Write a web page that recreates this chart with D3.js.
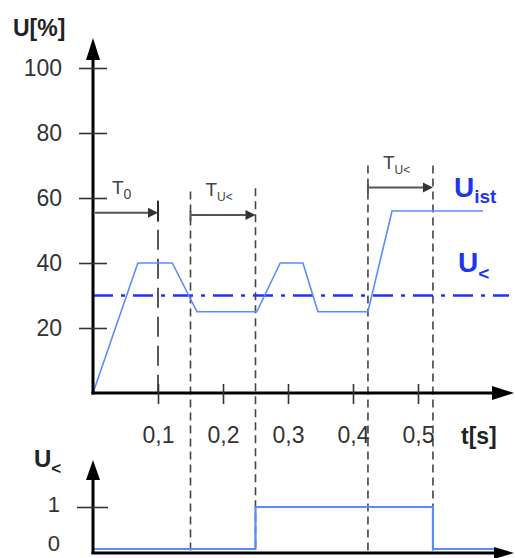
<!DOCTYPE html>
<html><head><meta charset="utf-8">
<script src="https://cdn.jsdelivr.net/npm/d3@7/dist/d3.min.js"></script>
<style>body{margin:0;background:#fff}svg{display:block;font-family:"Liberation Sans",Arial,sans-serif}</style>
</head><body>
<svg id="c" width="515" height="558"></svg>
<script>
// ---- data ----
const uistT = [0, 0.069, 0.122, 0.160, 0.252, 0.288, 0.323, 0.346, 0.423, 0.460, 0.600];
const uistV = [0, 40, 40, 25, 25, 40, 40, 25, 25, 56, 56];
const threshold = 30;
const thresholdEnd = 0.64;
const yTicks = [20, 40, 60, 80, 100];
const xTicks = [0.1, 0.2, 0.3, 0.4, 0.5];
const xTickLabels = ["0,1", "0,2", "0,3", "0,4", "0,5"];
const stepT = [0, 0.25, 0.25, 0.523, 0.523, 0.62];
const stepV = [0, 0, 1, 1, 0, 0];
const y2Ticks = [0, 1];
const markerT = [0.15, 0.25, 0.423, 0.523];
const markerTop = [62, 63, 70, 70];
const spans = [
  {t0: 0, t1: 0.1, v: 55.5, label: "T", sub: "0"},
  {t0: 0.15, t1: 0.25, v: 54.8, label: "T", sub: "U<"},
  {t0: 0.423, t1: 0.523, v: 63.2, label: "T", sub: "U<"}
];

const svg = d3.select("#c");
const x = d3.scaleLinear().domain([0, 0.5]).range([93, 418]);
const y = d3.scaleLinear().domain([0, 100]).range([393, 68]);
const y2 = d3.scaleLinear().domain([0, 1]).range([549, 507]);

const blueLine = "#5b8cff", blueDark = "#2036ee", gray = "#444";

// marker dashed verticals (behind)
markerT.forEach((t, i) => {
  svg.append("line").attr("x1", x(t)).attr("x2", x(t))
    .attr("y1", y(markerTop[i])).attr("y2", y2(0) + 4)
    .attr("stroke", gray).attr("stroke-width", 1.6).attr("stroke-dasharray", "8,5");
});
// T0 dashed line
svg.append("line").attr("x1", x(0.1)).attr("x2", x(0.1))
  .attr("y1", y(spans[0].v) - 12).attr("y2", y(0))
  .attr("stroke", "#222").attr("stroke-width", 1.5).attr("stroke-dasharray", "20,9");

// threshold dash-dot
svg.append("line").attr("x1", x(0)).attr("x2", x(thresholdEnd))
  .attr("y1", y(threshold)).attr("y2", y(threshold))
  .attr("stroke", blueDark).attr("stroke-width", 2.5).attr("stroke-dasharray", "20,8,4,8");

// U_ist curve
const line = d3.line().x((d, i) => x(uistT[i])).y(d => y(d));
svg.append("path").datum(uistV).attr("d", line)
  .attr("fill", "none").attr("stroke", blueLine).attr("stroke-width", 1.6);

// step line bottom
const line2 = d3.line().x((d, i) => x(stepT[i])).y(d => y2(d));
svg.append("path").datum(stepV).attr("d", line2)
  .attr("fill", "none").attr("stroke", blueLine).attr("stroke-width", 2.2);

// axes
function arrowUp(cx, tip, len, hw) {
  svg.append("path").attr("d", `M${cx},${tip}L${cx - hw},${tip + len}L${cx + hw},${tip + len}Z`).attr("fill", "#000");
}
function arrowRight(cy, tip, len, hw) {
  svg.append("path").attr("d", `M${tip},${cy}L${tip - len},${cy - hw}L${tip - len},${cy + hw}Z`).attr("fill", "#000");
}
// main y axis
svg.append("line").attr("x1", x(0)).attr("x2", x(0)).attr("y1", y(0) + 1.5).attr("y2", 50).attr("stroke", "#000").attr("stroke-width", 3);
arrowUp(x(0), 38, 22, 7);
// main x axis
svg.append("line").attr("x1", x(0) - 1.5).attr("x2", 500).attr("y1", y(0)).attr("y2", y(0)).attr("stroke", "#000").attr("stroke-width", 3);
arrowRight(y(0), 514, 22, 7);

const yAx = svg.append("g").attr("transform", `translate(${x(0)},0)`)
  .call(d3.axisLeft(y).tickValues(yTicks).tickSize(0).tickPadding(31));
yAx.select(".domain").remove();
yAx.selectAll("line").attr("x1", -14).attr("x2", 14).attr("stroke", "#333").attr("stroke-width", 1.6);
yAx.selectAll("text").attr("font-size", 23).attr("fill", "#333").attr("font-family", "Liberation Sans, Arial, sans-serif");

const xAx = svg.append("g").attr("transform", `translate(0,${y(0)})`)
  .call(d3.axisBottom(x).tickValues(xTicks).tickFormat((d, i) => xTickLabels[i]).tickSize(0).tickPadding(34));
xAx.select(".domain").remove();
xAx.selectAll("line").attr("y1", -9).attr("y2", 11).attr("stroke", "#333").attr("stroke-width", 1.6);
xAx.selectAll("text").attr("font-size", 23).attr("fill", "#333").attr("font-family", "Liberation Sans, Arial, sans-serif");

// bottom axes
svg.append("line").attr("x1", x(0)).attr("x2", x(0)).attr("y1", 554).attr("y2", 472).attr("stroke", "#000").attr("stroke-width", 3);
arrowUp(x(0), 460, 20, 7);
svg.append("line").attr("x1", x(0) - 1.5).attr("x2", 500).attr("y1", 553).attr("y2", 553).attr("stroke", "#000").attr("stroke-width", 3);
arrowRight(553, 514, 20, 6);
const y2Ax = svg.append("g").attr("transform", `translate(${x(0)},0)`)
  .call(d3.axisLeft(y2).tickValues(y2Ticks).tickSize(0).tickPadding(33).tickFormat(d3.format("d")));
y2Ax.select(".domain").remove();
y2Ax.selectAll("line").attr("x1", d => d === 1 ? -16 : 0).attr("x2", d => d === 1 ? 15 : 0).attr("stroke", "#333").attr("stroke-width", 1.6);
y2Ax.selectAll("text").attr("font-size", 22).attr("fill", "#333").attr("dy", d => d === 0 ? "0.08em" : "0.2em")
  .attr("font-family", "Liberation Sans, Arial, sans-serif");

// span arrows
spans.forEach((s, i) => {
  const yy = y(s.v), xa = x(s.t0), xb = x(s.t1);
  svg.append("line").attr("x1", xa + (i === 0 ? 2 : 0)).attr("x2", xb - 8).attr("y1", yy).attr("y2", yy)
    .attr("stroke", "#555").attr("stroke-width", 2);
  svg.append("path").attr("d", `M${xb},${yy}L${xb - 10},${yy - 5}L${xb - 10},${yy + 5}Z`).attr("fill", "#333");
  if (i === 0) {
    svg.append("line").attr("x1", xb).attr("x2", xb).attr("y1", yy - 12).attr("y2", yy + 9).attr("stroke", "#222").attr("stroke-width", 1.6);
  } else {
    svg.append("line").attr("x1", xa).attr("x2", xa).attr("y1", yy - 4).attr("y2", yy + 6).attr("stroke", "#555").attr("stroke-width", 2);
  }
  const t = svg.append("text").attr("x", xa + (i === 0 ? 19 : 15)).attr("y", yy - 19)
    .attr("font-size", 19).attr("fill", "#444");
  t.append("tspan").text(s.label);
  t.append("tspan").attr("dy", 5).attr("font-size", s.sub === "0" ? 14 : 12).text(s.sub);
});

// titles
svg.append("text").attr("x", 13).attr("y", 36).attr("font-size", 23).attr("font-weight", "bold").attr("fill", "#222").text("U[%]");
svg.append("text").attr("x", 461).attr("y", 444).attr("font-size", 23).attr("font-weight", "bold").attr("fill", "#222").text("t[s]");
const ul = svg.append("text").attr("x", 34).attr("y", 467).attr("font-size", 24).attr("font-weight", "bold").attr("fill", "#222");
ul.append("tspan").text("U");
ul.append("tspan").attr("dy", 7).attr("font-size", 17).text("<");

const ui = svg.append("text").attr("x", 454).attr("y", 197).attr("font-size", 28).attr("font-weight", "bold").attr("fill", blueDark);
ui.append("tspan").text("U");
ui.append("tspan").attr("dy", 6).attr("font-size", 19).text("ist");
const uk = svg.append("text").attr("x", 458).attr("y", 272).attr("font-size", 28).attr("font-weight", "bold").attr("fill", blueDark);
uk.append("tspan").text("U");
uk.append("tspan").attr("dy", 8).attr("font-size", 19).text("<");
</script>
</body></html>
